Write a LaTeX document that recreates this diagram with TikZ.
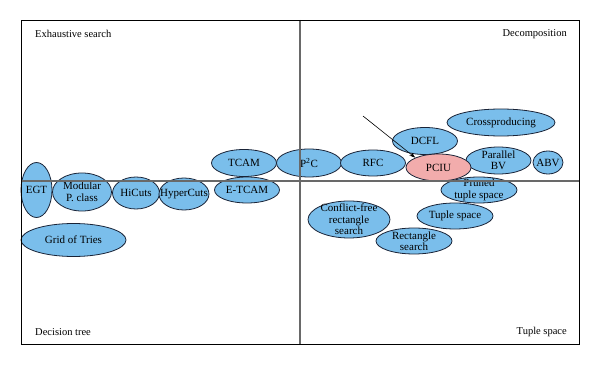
\documentclass[tikz,border=0pt]{standalone}
\usepackage{fontspec}
\setmainfont{Liberation Serif}
\usetikzlibrary{shapes.geometric,arrows.meta}
\definecolor{blueF}{RGB}{122,190,235}
\definecolor{pinkF}{RGB}{242,172,172}
\definecolor{edgeC}{RGB}{25,35,55}
\definecolor{divC}{RGB}{105,105,105}
\tikzset{
  blob/.style={ellipse, draw=edgeC, fill=blueF, line width=0.8pt, inner sep=0pt},
  hot/.style={blob, fill=pinkF},
  lbl/.style={font=\fontsize{11}{11.5}\selectfont, align=center, inner sep=0pt},
  corner/.style={font=\fontsize{10.5}{12}\selectfont, inner sep=0pt},
}
\begin{document}
\begin{tikzpicture}[x=1pt,y=-1pt]
\useasboundingbox (0,0) rectangle (600,366);
% left half
\node[blob, minimum width=31pt, minimum height=55pt, label={[lbl]center:EGT}] (egt) at (36.5,190) {};
\node[blob, minimum width=59pt, minimum height=38pt, label={[lbl]center:{Modular\\P. class}}] (mod) at (82,192) {};
\node[blob, minimum width=47pt, minimum height=32pt, label={[lbl]center:HiCuts}] (hic) at (136,193) {};
\node[blob, minimum width=50pt, minimum height=32pt, label={[lbl]center:HyperCuts}] (hyp) at (184,194) {};
\node[blob, minimum width=65pt, minimum height=27pt, label={[lbl]center:TCAM}] (tcam) at (244,163) {};
\node[blob, minimum width=65pt, minimum height=26pt, label={[lbl]center:E-TCAM}] (etcam) at (247,190) {};
\node[blob, minimum width=105pt, minimum height=33pt, label={[lbl]center:Grid of Tries}] (got) at (73.5,240) {};
% right half
\node[blob, minimum width=65pt, minimum height=28pt, label={[lbl]center:{P\textsuperscript{2}C}}] (p2c) at (309,163) {};
\node[blob, minimum width=65pt, minimum height=26pt, label={[lbl]center:RFC}] (rfc) at (373,163) {};
\node[blob, minimum width=65pt, minimum height=27pt, label={[lbl]center:DCFL}] (dcfl) at (425,141) {};
\node[blob, minimum width=108pt, minimum height=27pt, label={[lbl]center:Crossproducing}] (cross) at (501,122.5) {};
\node[blob, minimum width=65pt, minimum height=27pt, label={[lbl]center:{Parallel\\BV}}] (pbv) at (498.5,160.5) {};
\node[blob, minimum width=30pt, minimum height=23pt, label={[lbl]center:ABV}] (abv) at (548,162.5) {};
\node[blob, minimum width=76pt, minimum height=26pt, label={[lbl]center:{Pruned\\tuple space}}] (pts) at (479,190) {};
\node[hot, minimum width=65pt, minimum height=27pt, label={[lbl]center:PCIU}] (pciu) at (438.5,167.5) {};
\node[blob, minimum width=76pt, minimum height=26pt, label={[lbl]center:Tuple space}] (ts) at (455,216) {};
\node[blob, minimum width=82pt, minimum height=37pt, label={[lbl]center:{Conflict-free\\rectangle\\search}}] (cfrs) at (349,219.5) {};
\node[blob, minimum width=76pt, minimum height=26pt, label={[lbl]center:{Rectangle\\search}}] (rs) at (414,241) {};
% frame and dividers
\draw[divC, line width=1.1pt] (300,20) -- (300,344);
\draw[divC, line width=1.1pt] (21,181) -- (579,181);
\draw[black, line width=0.9pt] (21,20) rectangle (579,344);
% arrow
\coordinate (astart) at (363,116);
\draw[-{Stealth[length=6pt,width=4pt]}, line width=0.6pt, black] (astart) -- (pciu.north west);
% corner labels
\node[corner, anchor=west] (es) at (35,34) {Exhaustive search};
\node[corner, anchor=east] (dc) at (567,34) {Decomposition};
\node[corner, anchor=west] (dt) at (35,332) {Decision tree};
\node[corner, anchor=east] (tsp) at (567,332) {Tuple space};
\end{tikzpicture}
\end{document}
